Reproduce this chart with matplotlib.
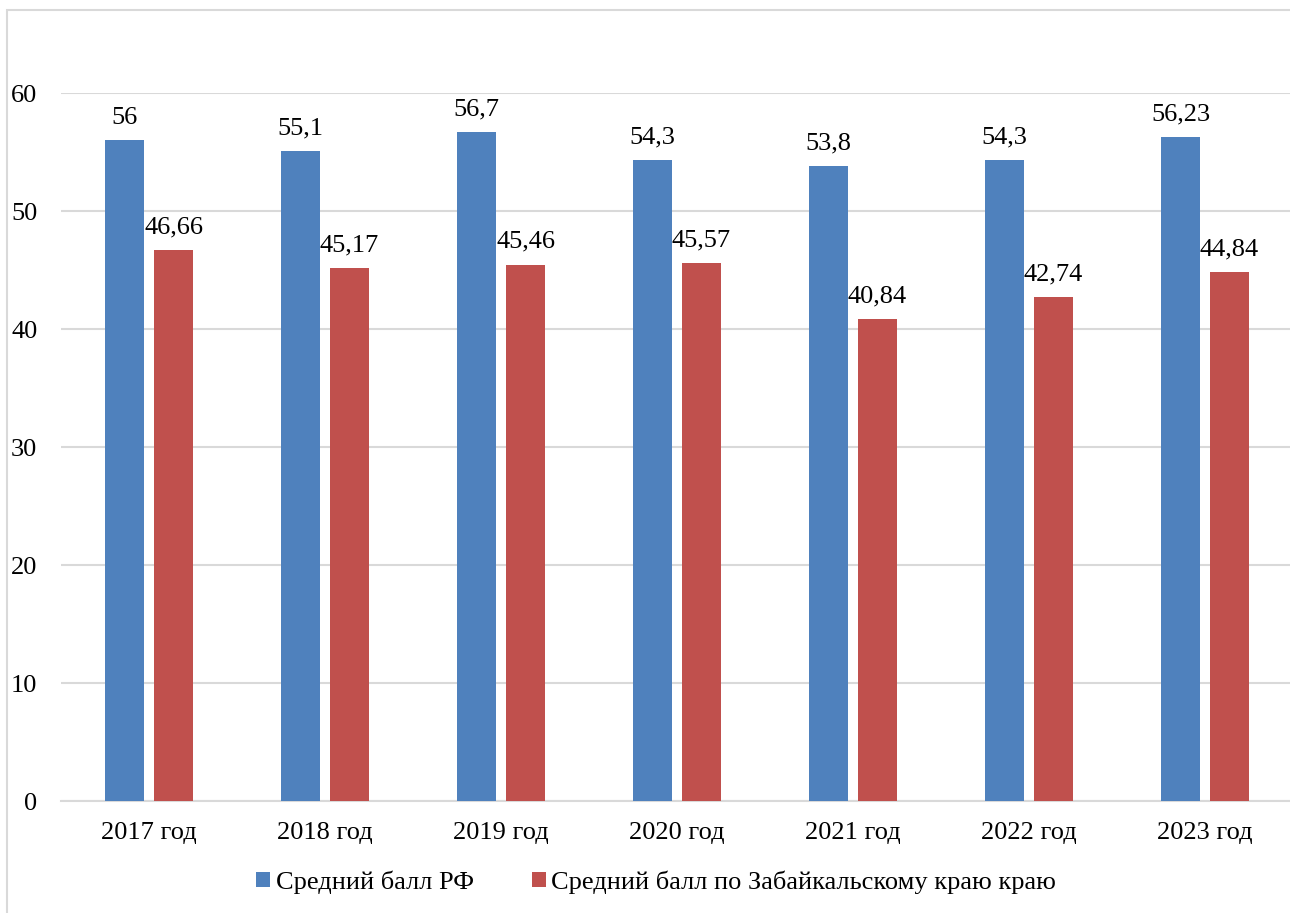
import matplotlib
matplotlib.use("Agg")
import matplotlib.pyplot as plt
import numpy as np
from matplotlib.patches import Rectangle

years = ["2017 год", "2018 год", "2019 год", "2020 год", "2021 год", "2022 год", "2023 год"]
avg_rf = [56, 55.1, 56.7, 54.3, 53.8, 54.3, 56.23]
avg_zab = [46.66, 45.17, 45.46, 45.57, 40.84, 42.74, 44.84]
labels_rf = ["56", "55,1", "56,7", "54,3", "53,8", "54,3", "56,23"]
labels_zab = ["46,66", "45,17", "45,46", "45,57", "40,84", "42,74", "44,84"]
series_names = ["Средний балл РФ", "Средний балл по Забайкальскому краю краю"]

BLUE = "#4F81BD"
RED = "#C0504D"
GRID = "#D9D9D9"
FS = 19

plt.rcParams["font.family"] = ["Liberation Serif", "DejaVu Serif"]

W, H = 1290, 913
fig = plt.figure(figsize=(W / 100, H / 100), dpi=100)

# chart frame, runs off the right and bottom edges
fig.patches.append(Rectangle((7 / W, -0.05), 1.1, (H - 10) / H + 0.05,
                             transform=fig.transFigure, fill=False,
                             edgecolor=GRID, linewidth=1.5))

ax = fig.add_axes([61 / W, 112 / H, (1293 - 61) / W, 708 / H])

x = np.arange(len(years))
bw = 0.222
gap = 0.057
off = (bw + gap) / 2
b1 = ax.bar(x - off, avg_rf, bw, color=BLUE, label=series_names[0], zorder=3)
b2 = ax.bar(x + off, avg_zab, bw, color=RED, label=series_names[1], zorder=3)

for bars, texts in ((b1, labels_rf), (b2, labels_zab)):
    for rect, t in zip(bars, texts):
        ax.annotate(t, (rect.get_x() + rect.get_width() / 2, rect.get_height()),
                    xytext=(0, 12), textcoords="offset points",
                    ha="center", va="baseline", fontsize=FS, zorder=4)

ax.set_xlim(-0.5, len(years) - 0.5)
ax.set_ylim(0, 60)
ax.set_yticks(range(0, 61, 10))
ax.set_xticks(x)
ax.set_xticklabels(years)
ax.tick_params(axis="y", length=0, pad=17, labelsize=FS)
ax.tick_params(axis="x", length=0, pad=15, labelsize=FS)
ax.yaxis.grid(True, color=GRID, linewidth=1.5, zorder=0)
ax.set_axisbelow(True)
for side in ("top", "right", "left"):
    ax.spines[side].set_visible(False)
ax.spines["bottom"].set_color(GRID)
ax.spines["bottom"].set_linewidth(1.5)

fig.legend(handles=[b1, b2], loc="center", bbox_to_anchor=(656 / W, 1 - 882 / H),
           ncol=2, frameon=False, fontsize=FS, handlelength=0.53, handleheight=0.53,
           handletextpad=0.2, columnspacing=2.2, borderpad=0, borderaxespad=0)

fig.savefig("out.png", dpi=100)
